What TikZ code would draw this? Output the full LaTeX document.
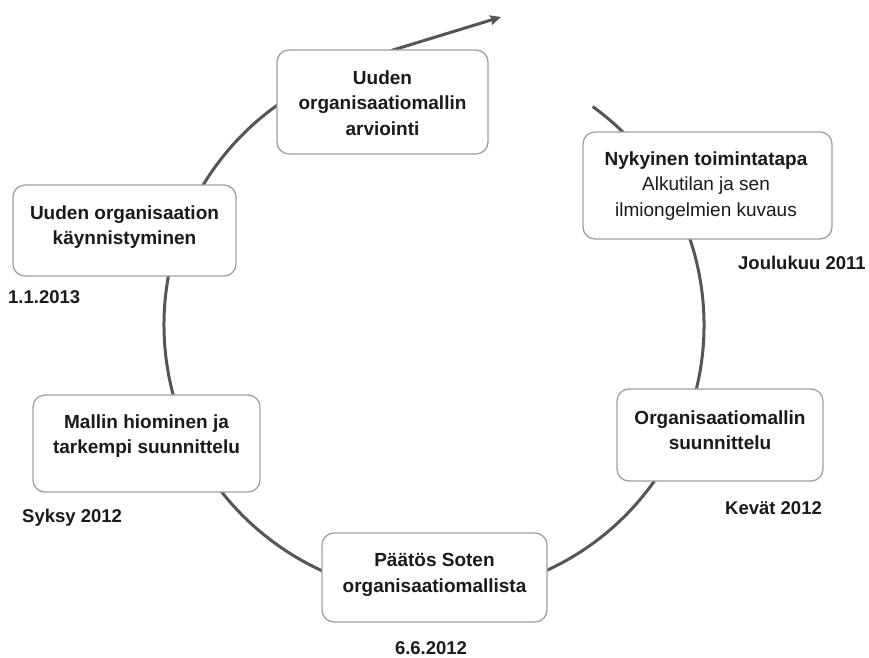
\documentclass[tikz,border=0pt]{standalone}
\usepackage{fontspec}
\setmainfont{Liberation Sans}
\usetikzlibrary{arrows.meta}
\definecolor{arcgrey}{HTML}{555555}
\definecolor{boxgrey}{HTML}{A0A0A0}
\definecolor{txt}{HTML}{1A1A1A}
\tikzset{
  x=1pt, y=-1pt,
  stagebox/.style={draw=boxgrey, line width=1.3pt, rounded corners=12pt, fill=white, inner sep=0pt},
  stagetext/.style={text=txt, align=center, font=\fontsize{19}{25.5}\selectfont\bfseries, inner sep=0pt},
  datetext/.style={text=txt, font=\fontsize{18.5}{22}\selectfont\bfseries, inner sep=0pt},
  cyclearc/.style={draw=arcgrey, line width=3pt}
}
\begin{document}
\begin{tikzpicture}
\useasboundingbox (0,0) rectangle (869,657);
\coordinate (ctr) at (434,325);
\coordinate (tip) at (501,17);
% cycle arc
\draw[cyclearc, -{Stealth[length=11pt,width=10pt,inset=2pt]}]
  ([shift={(-54:270)}]ctr) arc[start angle=-54, end angle=254, radius=270]
  -- (393,50) -- (tip);
% boxes
\node[stagebox, minimum width=211pt, minimum height=104pt] (b1) at (382.5,102) {};
\node[stagebox, minimum width=249pt, minimum height=107pt] (b2) at (707.5,185.5) {};
\node[stagebox, minimum width=206pt, minimum height=92pt] (b3) at (720,435) {};
\node[stagebox, minimum width=225pt, minimum height=89pt] (b4) at (434.5,577.5) {};
\node[stagebox, minimum width=227pt, minimum height=97pt] (b5) at (146.5,443.5) {};
\node[stagebox, minimum width=223pt, minimum height=91pt] (b6) at (124.5,230.5) {};
% texts
\node[stagetext] (t1) at (382.5,103) {Uuden\\organisaatiomallin\\arviointi};
\node[stagetext] (t2) at (706,186) {Nykyinen toimintatapa\\{\mdseries Alkutilan ja sen}\\{\mdseries ilmiongelmien kuvaus}};
\node[stagetext] (t3) at (720,430) {Organisaatiomallin\\suunnittelu};
\node[stagetext] (t4) at (434.5,575) {Päätös Soten\\organisaatiomallista};
\node[stagetext] (t5) at (146.5,436) {Mallin hiominen ja\\tarkempi suunnittelu};
\node[stagetext] (t6) at (124.5,227) {Uuden organisaation\\käynnistyminen};
% dates
\node[datetext, anchor=west] (d1) at (738,263) {Joulukuu 2011};
\node[datetext, anchor=west] (d2) at (725,508) {Kevät 2012};
\node[datetext] (d3) at (431,648) {6.6.2012};
\node[datetext, anchor=west] (d4) at (22,518) {Syksy 2012};
\node[datetext, anchor=west] (d5) at (8,297) {1.1.2013};
\end{tikzpicture}
\end{document}
